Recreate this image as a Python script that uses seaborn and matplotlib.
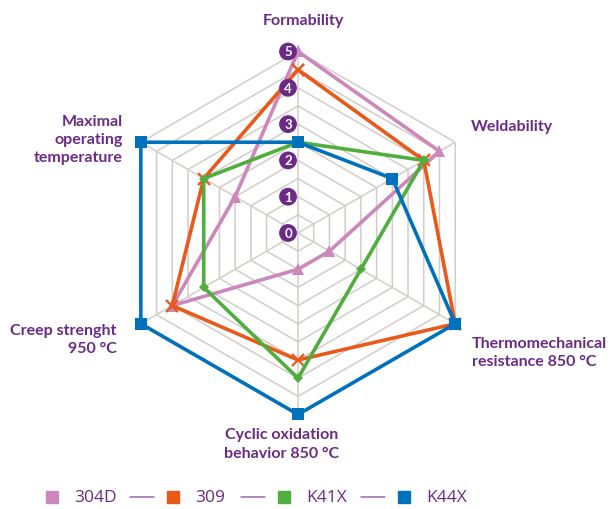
import numpy as np
import pandas as pd
import seaborn as sns
import matplotlib.pyplot as plt
from matplotlib.lines import Line2D

# categories (clockwise from top)
categorias = ["Formability", "Weldability", "Thermomechanical\nresistance 850 °C",
              "Cyclic oxidation\nbehavior 850 °C", "Creep strenght\n950 °C",
              "Maximal\noperating\ntemperature"]
series = ["304D", "309", "K41X", "K44X"]
v_304d = [5, 4.5, 1, 1, 4, 2]
v_309 = [4.5, 4, 5, 3.5, 4, 3]
v_k41x = [2.5, 4, 2, 4, 3, 3]
v_k44x = [2.5, 3, 5, 5, 5, 5]
tick_vals = [0, 1, 2, 3, 4, 5]

cores = {"304D": "#cc88bb", "309": "#e8591a", "K41X": "#4fae3e", "K44X": "#0071bc"}
marcadores = {"304D": "^", "309": "x", "K41X": "D", "K44X": "s"}
tam = {"304D": 8, "309": 9, "K41X": 5, "K44X": 8}
roxo = "#6b2a86"

sns.set_style("white")
plt.rcParams['font.family'] = ['Lato', 'DejaVu Sans']

n = len(categorias)
angulos = np.linspace(0, 2 * np.pi, n, endpoint=False)

W, H = 612, 510
fig = plt.figure(figsize=(W / 100, H / 100), dpi=100)
ax = fig.add_axes([0.1904, 0.1853, 0.5931, 0.7118], projection="polar")
ax.set_theta_offset(np.pi / 2)
ax.set_theta_direction(-1)
ax.grid(False)
ax.spines["polar"].set_visible(False)

# hexagonal grid
fechado = np.append(angulos, angulos[0])
for nivel in np.arange(0.5, 5.01, 0.5):
    ax.plot(fechado, [nivel] * len(fechado), color="#d2cdc8", lw=1.1, zorder=1)
for a in angulos:
    ax.plot([a, a], [0, 5], color="#d2cdc8", lw=1.1, zorder=1)

# data
dados = {"304D": v_304d, "309": v_309, "K41X": v_k41x, "K44X": v_k44x}
for s in series:
    df = pd.DataFrame({"theta": fechado, "valor": dados[s] + [dados[s][0]]})
    sns.lineplot(data=df, x="theta", y="valor", ax=ax, sort=False, estimator=None,
                 color=cores[s], lw=2.6, marker=marcadores[s], markersize=tam[s],
                 markeredgewidth=1.6 if s == "309" else 0, markeredgecolor=cores[s],
                 clip_on=False, zorder=3)
ax.set_xlabel("")
ax.set_ylabel("")
ax.set_ylim(0, 5)
ax.set_xticks([])
ax.set_yticks([])

# radial tick labels
for v in tick_vals:
    ax.annotate(str(v), xy=(0, v), xytext=(-10, 0), textcoords="offset pixels",
                ha="center", va="center", color="white", fontsize=9.5, fontweight="bold",
                bbox=dict(boxstyle="circle,pad=0.22", fc=roxo, ec="none"), zorder=5)

# category labels
deslocs = [(5, 31, "center"), (16, 16, "left"), (17, -28, "left"),
           (-16, -29, "center"), (-24, -15, "right"), (-18, 3, "right")]
for a, cat, (dx, dy, ha) in zip(angulos, categorias, deslocs):
    ax.annotate(cat, xy=(a, 5), xytext=(dx, dy), textcoords="offset pixels",
                ha=ha, va="center", multialignment=ha, color=roxo, fontsize=11.5,
                fontweight="bold", linespacing=1.37, annotation_clip=False)

# legend (squares, names and thin separators)
leg_y = 1 - 498 / H
sq_x = [52, 173, 284, 404]
for i, s in enumerate(series):
    fig.add_artist(Line2D([sq_x[i] / W], [leg_y], marker="s", ls="none",
                          color=cores[s], markersize=9, transform=fig.transFigure))
    fig.text((sq_x[i] + 22) / W, leg_y, s, color=roxo, fontsize=12.5,
             family=["Open Sans", "DejaVu Sans"], fontweight="medium",
             ha="left", va="center")
    if i < len(series) - 1:
        x0 = sq_x[i + 1] - 43
        fig.add_artist(Line2D([x0 / W, (x0 + 24) / W], [leg_y, leg_y], color="#9a6aae",
                              lw=1.1, transform=fig.transFigure))

fig.savefig("out.png", dpi=100)
